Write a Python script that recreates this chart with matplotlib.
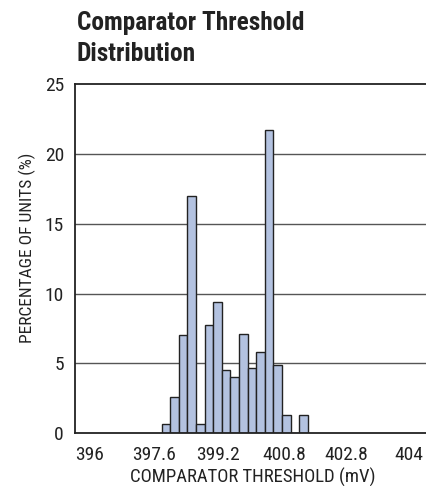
import matplotlib
matplotlib.use("Agg")
import matplotlib.pyplot as plt
from matplotlib import font_manager

# ---- data ----
bin_centers = [397.8, 398.0, 398.2, 398.4, 398.6, 398.8, 399.0, 399.2, 399.4,
               399.6, 399.8, 400.0, 400.2, 400.4, 400.6, 400.8, 401.0]
percent = [0.65, 2.6, 7.0, 17.0, 0.65, 7.75, 9.4, 4.55, 4.05,
           7.1, 4.7, 5.85, 21.7, 4.85, 1.3, 0.0, 1.3]
x_tick_labels = ["396", "397.6", "399.2", "400.8", "402.8", "404"]
y_ticks = [0, 5, 10, 15, 20, 25]

# tick label positions (layout, matching the source drawing)
x_tick_pos = [396.03, 397.52, 399.0, 400.54, 402.0, 403.45]

# look for a condensed / narrow sans font
cands = []
for f in font_manager.fontManager.ttflist:
    fn = f.fname.lower()
    st = str(f.stretch).lower()
    if ("narrow" in fn or "condensed" in fn or "condensed" in st) and f.style == "normal":
        cands.append(f)

def pick(bold):
    pref = ["liberation sans narrow", "roboto condensed", "open sans condensed",
            "noto sans condensed", "dejavu sans condensed", "dejavu"]
    best = None
    for p in pref:
        for f in cands:
            w = f.weight if isinstance(f.weight, int) else (700 if "bold" in str(f.weight) else 400)
            isb = w >= 600
            if p in f.fname.lower().replace("-", " ").replace("_", " ") or p in f.name.lower():
                if isb == bold and "semi" not in f.fname.lower() and "extra" not in f.fname.lower():
                    return font_manager.FontProperties(fname=f.fname)
                if best is None and isb == bold:
                    best = font_manager.FontProperties(fname=f.fname)
    if best is not None:
        return best
    fp = font_manager.FontProperties(family="DejaVu Sans", stretch="condensed",
                                     weight="bold" if bold else "normal")
    return fp

fp_reg = pick(False)
fp_bold = pick(True)

W, H = 427, 486
fig = plt.figure(figsize=(W / 100, H / 100), dpi=100)
left, right = 75 / W, 1.0
bottom, top = (H - 433.3) / H, (H - 83.8) / H
ax = fig.add_axes([left, bottom, right - left, top - bottom])

ax.set_xlim(395.684, 403.87)
ax.set_ylim(0, 25)

for y in [5, 10, 15, 20]:
    ax.axhline(y, color="#555555", lw=1.0, zorder=1)

ax.bar(bin_centers, percent, width=0.2, color="#b3c2e0", edgecolor="#222222",
       linewidth=1.0, zorder=2)

def fpsize(fp, size):
    q = fp.copy()
    q.set_size(size)
    return q

ax.set_xticks(x_tick_pos)
ax.set_xticklabels(x_tick_labels, fontproperties=fpsize(fp_reg, 14))
ax.set_yticks(y_ticks)
ax.set_yticklabels([str(v) for v in y_ticks], fontproperties=fpsize(fp_reg, 14))
ax.tick_params(axis="both", length=0, colors="#222222")
ax.tick_params(axis="x", pad=9)
ax.tick_params(axis="y", pad=8)

for s in ["left", "bottom", "top"]:
    ax.spines[s].set_color("#222222")
    ax.spines[s].set_linewidth(1.3)
ax.spines["right"].set_visible(False)

fig.text(253 / W, 1 - 483 / H, "COMPARATOR THRESHOLD (mV)",
         fontproperties=fpsize(fp_reg, 13.5), color="#222222",
         ha="center", va="baseline")
ax.set_ylabel("PERCENTAGE OF UNITS (%)", fontproperties=fpsize(fp_reg, 12.5),
              color="#222222", labelpad=6)
ax.yaxis.label.set_y(0.532)

fig.text(77 / W, 1 - 30 / H, "Comparator Threshold", fontproperties=fpsize(fp_bold, 18.3),
         color="#222222", va="baseline", ha="left")
fig.text(77 / W, 1 - 61 / H, "Distribution", fontproperties=fpsize(fp_bold, 18.3),
         color="#222222", va="baseline", ha="left")

fig.savefig("out.png", dpi=100)
